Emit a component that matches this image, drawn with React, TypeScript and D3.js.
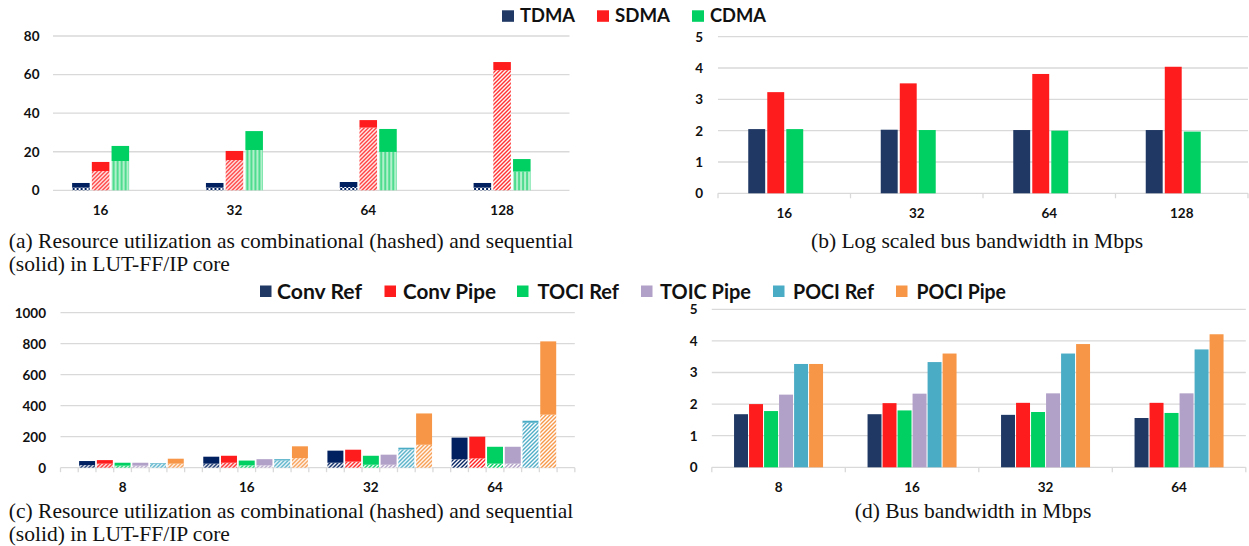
import * as d3 from "d3";

// panel (a)/(b): bus width categories and arbiters
const groupsA = ["16", "32", "64", "128"];
const seriesA = ["TDMA", "SDMA", "CDMA"];
const legendColorsA = ["#1f3864", "#ff1c1c", "#00d062"];
const solidColorsA = ["#002060", "#ff1c1c", "#00d062"];

// (a) LUT-FF usage: combinational (hashed) part and total height
const tdmaComb = [1.4, 1.4, 1.7, 1.4];
const tdmaTotal = [3.8, 3.8, 4.3, 3.8];
const sdmaComb = [10.0, 15.7, 32.5, 62.3];
const sdmaTotal = [14.7, 20.4, 36.4, 66.5];
const cdmaComb = [15.2, 20.9, 19.9, 9.7];
const cdmaTotal = [23.0, 30.7, 31.8, 16.2];

// (b) log scaled bandwidth
const tdmaBw = [2.05, 2.03, 2.02, 2.02];
const sdmaBw = [3.23, 3.51, 3.81, 4.04];
const cdmaBw = [2.05, 2.02, 2.0, 1.97];

// panel (c)/(d)
const groupsC = ["8", "16", "32", "64"];
const seriesC = ["Conv Ref", "Conv Pipe", "TOCI Ref", "TOIC Pipe", "POCI Ref", "POCI Pipe"];
const colorsC = ["#1f3864", "#ff1c1c", "#00d062", "#b1a0c7", "#4bacc6", "#f79646"];
const solidColorsC = ["#002060", "#ff1c1c", "#00d062", "#b1a0c7", "#4bacc6", "#f79646"];

const convRefComb = [17, 26, 32, 54];
const convRefTotal = [43, 71, 110, 194];
const convPipeComb = [26, 32, 39, 60];
const convPipeTotal = [49, 77, 116, 200];
const tociRefComb = [13, 15, 19, 26];
const tociRefTotal = [32, 46, 77, 135];
const toicPipeComb = [13, 15, 19, 26];
const toicPipeTotal = [32, 55, 84, 135];
const pociRefComb = [26, 47, 118, 290];
const pociRefTotal = [30, 55, 129, 303];
const pociPipeComb = [26, 62, 148, 342];
const pociPipeTotal = [58, 138, 350, 815];

// (d) bandwidth
const convRefBw = [1.68, 1.68, 1.66, 1.56];
const convPipeBw = [2.0, 2.03, 2.04, 2.04];
const tociRefBw = [1.78, 1.8, 1.75, 1.72];
const toicPipeBw = [2.3, 2.33, 2.34, 2.34];
const pociRefBw = [3.27, 3.33, 3.6, 3.73];
const pociPipeBw = [3.27, 3.6, 3.9, 4.21];

const combA = [tdmaComb, sdmaComb, cdmaComb];
const totalA = [tdmaTotal, sdmaTotal, cdmaTotal];
const bwA = [tdmaBw, sdmaBw, cdmaBw];
const combC = [convRefComb, convPipeComb, tociRefComb, toicPipeComb, pociRefComb, pociPipeComb];
const totalC = [convRefTotal, convPipeTotal, tociRefTotal, toicPipeTotal, pociRefTotal, pociPipeTotal];
const bwC = [convRefBw, convPipeBw, tociRefBw, toicPipeBw, pociRefBw, pociPipeBw];

const axisFont = { fontFamily: "Lato, 'DejaVu Sans', sans-serif", fontWeight: 700, fontSize: 13.5, fill: "#111" };
const capFont = { fontFamily: "'Liberation Serif', 'Times New Roman', serif", fontSize: 21.5, fill: "#111" };
const grid = "#d9d9d9";

function Diag({ id, color }: { id: string; color: string }) {
  return (
    <pattern id={id} patternUnits="userSpaceOnUse" width={4} height={4}>
      <rect width={4} height={4} fill="#fff" />
      <path d="M-1,1 l2,-2 M0,4 l4,-4 M3,5 l2,-2" stroke={color} strokeWidth={1.4} />
    </pattern>
  );
}

function YAxis({ y, ticks, x0, x1, labelX }: any) {
  return (
    <g>
      {ticks.map((t: number) => (
        <g key={t}>
          <line x1={x0} x2={x1} y1={y(t)} y2={y(t)} stroke={grid} strokeWidth={1.3} />
          <text x={labelX} y={y(t)} dy="0.36em" textAnchor="end" {...axisFont}>{t}</text>
        </g>
      ))}
    </g>
  );
}

export default function App() {
  // (a)
  const xA = d3.scaleBand().domain(groupsA).range([33.7, 569]);
  const xA1 = d3.scaleBand().domain(seriesA).range([-28.5, 28.5]).paddingInner(0.11);
  const yA = d3.scaleLinear().domain([0, 80]).range([190.3, 36]);
  const patA = ["pa-tdma", "pa-sdma", "pa-cdma"];

  // (b)
  const xB = d3.scaleBand().domain(groupsA).range([718, 1248]);
  const xB1 = d3.scaleBand().domain([...seriesA, "blank"]).range([-36, 38]).paddingInner(0.11);
  const yB = d3.scaleLinear().domain([0, 5]).range([193.3, 36.7]);

  // (c)
  const xC = d3.scaleBand().domain(groupsC).range([60.5, 557.1]);
  const xC1 = d3.scaleBand().domain(["gap", ...seriesC]).range([0, xC.bandwidth()]).paddingInner(0.1).paddingOuter(0.05);
  const yC = d3.scaleLinear().domain([0, 1000]).range([467.7, 312.7]);
  const stepC = xC.bandwidth() / 7;
  const tickC = d3.range(0, 30).map((i) => 60.5 + i * stepC);

  // (d)
  const xD = d3.scaleBand().domain(groupsC).range([711.8, 1245.8]);
  const xD1 = d3.scaleBand().domain(seriesC).range([-44.5, 44.5]).paddingInner(0.07);
  const yD = d3.scaleLinear().domain([0, 5]).range([467.3, 309.3]);

  const legendA = [
    { x: 502, tx: 520, w: 55 },
    { x: 597, tx: 615, w: 55 },
    { x: 692, tx: 710, w: 56 },
  ];
  const legendC = [
    { x: 260, tx: 277, w: 85 },
    { x: 384.5, tx: 403, w: 93 },
    { x: 517, tx: 537.5, w: 81.5 },
    { x: 641, tx: 660, w: 91 },
    { x: 773, tx: 793, w: 81 },
    { x: 896, tx: 916.6, w: 89.4 },
  ];

  return (
    <svg width={1249} height={546} style={{ position: "absolute", left: 0, top: 0, background: "#fff" }}>
      <defs>
        <pattern id="pa-tdma" patternUnits="userSpaceOnUse" width={4} height={4}>
          <rect width={4} height={4} fill="#fff" />
          <rect width={2} height={2} fill="#002060" />
          <rect x={2} y={2} width={2} height={2} fill="#002060" />
        </pattern>
        <Diag id="pa-sdma" color="#ff2a2a" />
        <pattern id="pa-cdma" patternUnits="userSpaceOnUse" width={4} height={4}>
          <rect width={4} height={4} fill="#b2f0cc" />
          <rect width={2} height={4} fill="#4fdc8f" />
        </pattern>
        {colorsC.map((c, i) => <Diag key={i} id={`pc-${i}`} color={solidColorsC[i]} />)}
      </defs>

      {/* legends */}
      {seriesA.map((s, i) => (
        <g key={s}>
          <rect x={legendA[i].x} y={10.3} width={12} height={11.5} fill={legendColorsA[i]} />
          <text x={legendA[i].tx} y={16} dy="0.36em" textLength={legendA[i].w} lengthAdjust="spacingAndGlyphs"
            {...axisFont} fontSize={18}>{s}</text>
        </g>
      ))}
      {seriesC.map((s, i) => (
        <g key={s}>
          <rect x={legendC[i].x} y={285.5} width={11.5} height={11.5} fill={colorsC[i]} />
          <text x={legendC[i].tx} y={291.3} dy="0.36em" textLength={legendC[i].w} lengthAdjust="spacingAndGlyphs"
            {...axisFont} fontSize={20}>{s}</text>
        </g>
      ))}

      {/* (a) */}
      <YAxis y={yA} ticks={yA.ticks(4)} x0={53} x1={569.5} labelX={39.5} />
      {groupsA.map((g, gi) => (
        <g key={g} transform={`translate(${xA(g)! + xA.bandwidth() / 2},0)`}>
          {seriesA.map((s, si) => (
            <g key={s}>
              <rect x={xA1(s)} width={xA1.bandwidth()} y={yA(combA[si][gi])} height={yA(0) - yA(combA[si][gi])} fill={`url(#${patA[si]})`} />
              <rect x={xA1(s)} width={xA1.bandwidth()} y={yA(totalA[si][gi])} height={yA(combA[si][gi]) - yA(totalA[si][gi])} fill={solidColorsA[si]} />
            </g>
          ))}
          <text x={0} y={210} dy="0.36em" textAnchor="middle" {...axisFont}>{g}</text>
        </g>
      ))}

      {/* (b) */}
      <YAxis y={yB} ticks={yB.ticks(5)} x0={718} x1={1248} labelX={703} />
      {[...groupsA.map((g) => xB(g)!), 1248].map((t, i) => (
        <line key={i} x1={t} x2={t} y1={yB(0)} y2={yB(0) + 5} stroke={grid} strokeWidth={1.3} />
      ))}
      {groupsA.map((g, gi) => (
        <g key={g} transform={`translate(${xB(g)! + xB.bandwidth() / 2},0)`}>
          {seriesA.map((s, si) => (
            <rect key={s} x={xB1(s)} width={xB1.bandwidth()} y={yB(bwA[si][gi])} height={yB(0) - yB(bwA[si][gi])} fill={legendColorsA[si]} />
          ))}
          <text x={0} y={212.7} dy="0.36em" textAnchor="middle" {...axisFont}>{g}</text>
        </g>
      ))}

      {/* (c) */}
      <YAxis y={yC} ticks={yC.ticks(5)} x0={60.5} x1={574.8} labelX={46} />
      {tickC.map((t, i) => (
        <line key={i} x1={t} x2={t} y1={yC(0)} y2={yC(0) + 4.5} stroke={grid} strokeWidth={1.3} />
      ))}
      {groupsC.map((g, gi) => (
        <g key={g} transform={`translate(${xC(g)},0)`}>
          {seriesC.map((s, si) => (
            <g key={s}>
              <rect x={xC1(s)} width={xC1.bandwidth()} y={yC(combC[si][gi])} height={yC(0) - yC(combC[si][gi])} fill={`url(#pc-${si})`} />
              <rect x={xC1(s)} width={xC1.bandwidth()} y={yC(totalC[si][gi])} height={yC(combC[si][gi]) - yC(totalC[si][gi])} fill={solidColorsC[si]} />
            </g>
          ))}
          <text x={xC.bandwidth() / 2} y={486.7} dy="0.36em" textAnchor="middle" {...axisFont}>{g}</text>
        </g>
      ))}

      {/* (d) */}
      <YAxis y={yD} ticks={yD.ticks(5)} x0={711.8} x1={1245.8} labelX={697.5} />
      {[...groupsC.map((g) => xD(g)!), 1245.8].map((t, i) => (
        <line key={i} x1={t} x2={t} y1={yD(0)} y2={yD(0) + 5} stroke={grid} strokeWidth={1.3} />
      ))}
      {groupsC.map((g, gi) => (
        <g key={g} transform={`translate(${xD(g)! + xD.bandwidth() / 2},0)`}>
          {seriesC.map((s, si) => (
            <rect key={s} x={xD1(s)} width={xD1.bandwidth()} y={yD(bwC[si][gi])} height={yD(0) - yD(bwC[si][gi])} fill={colorsC[si]} />
          ))}
          <text x={0} y={486.7} dy="0.36em" textAnchor="middle" {...axisFont}>{g}</text>
        </g>
      ))}

      {/* captions */}
      <text x={8.7} y={247.5} textLength={564.6} lengthAdjust="spacing" {...capFont}>
        (a) Resource utilization as combinational (hashed) and sequential
      </text>
      <text x={8.7} y={270.5} {...capFont}>(solid) in LUT-FF/IP core</text>
      <text x={977} y={247.5} textAnchor="middle" {...capFont}>(b) Log scaled bus bandwidth in Mbps</text>
      <text x={8.7} y={518} textLength={564.6} lengthAdjust="spacing" {...capFont}>
        (c) Resource utilization as combinational (hashed) and sequential
      </text>
      <text x={8.7} y={541} {...capFont}>(solid) in LUT-FF/IP core</text>
      <text x={973} y={518} textAnchor="middle" {...capFont}>(d) Bus bandwidth in Mbps</text>
    </svg>
  );
}
